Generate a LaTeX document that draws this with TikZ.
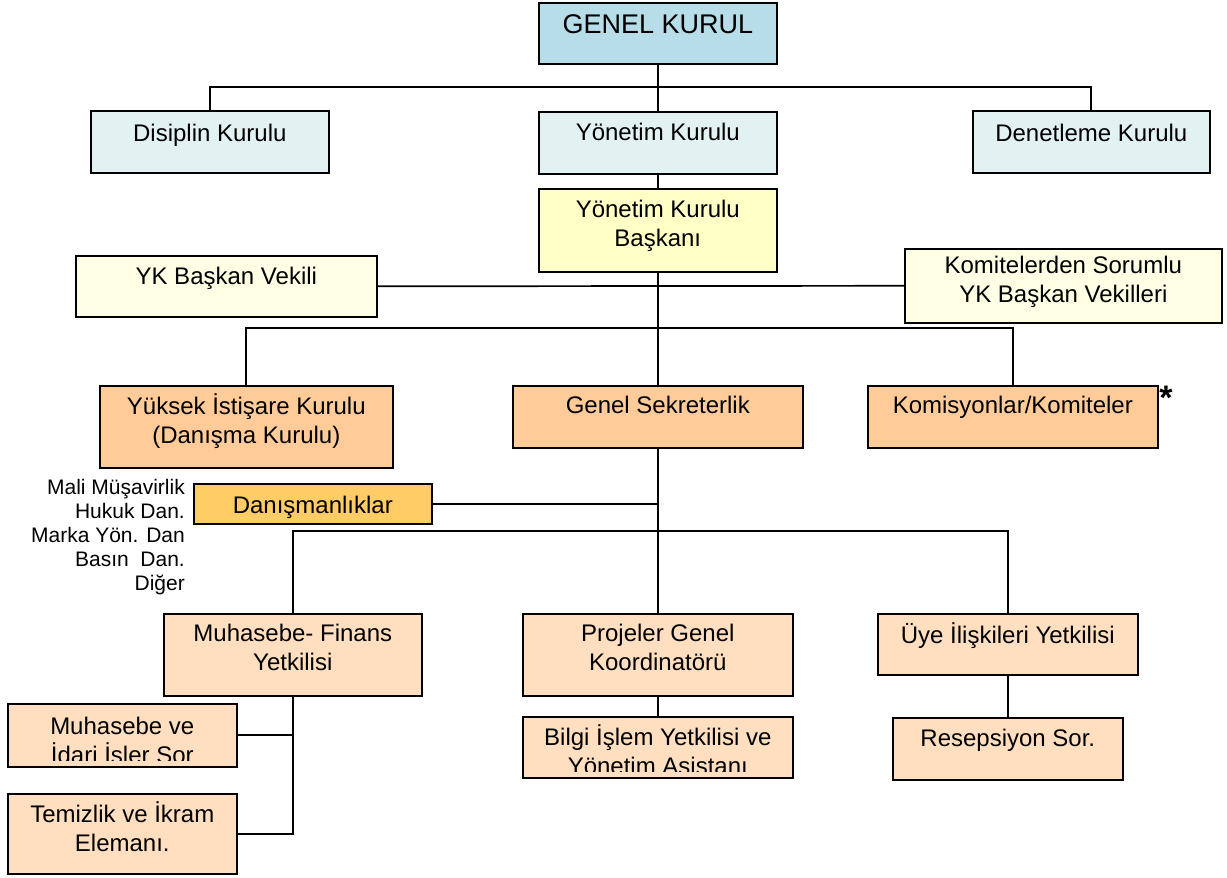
\documentclass[tikz,border=0pt]{standalone}
\usepackage{fontspec}
\setmainfont{Liberation Sans}
\definecolor{gkc}{HTML}{B7DEE8}
\definecolor{kc}{HTML}{E2F2F3}
\definecolor{ybc}{HTML}{FFFFC6}
\definecolor{yvc}{HTML}{FFFFE5}
\definecolor{orc}{HTML}{FFCC99}
\definecolor{lorc}{HTML}{FFDFBF}
\definecolor{gdc}{HTML}{FFCC66}
\newcommand\bxfont{\fontsize{24}{29}\selectfont}
\newcommand\twol[2]{\parbox[t]{10cm}{\centering #1\\#2}}
\begin{document}
\begin{tikzpicture}[x=1pt,y=-1pt,
  box/.style={draw=black, line width=1.6pt, inner sep=0pt, anchor=north west},
  txt/.style={inner sep=0pt, anchor=base, font=\bxfont},
  conn/.style={line width=1.7pt}]
\useasboundingbox (0,0) rectangle (1227,878);
% boxes
\node[box, fill=gkc, minimum width=238pt, minimum height=61pt] (gk) at (538,2) {};
\node[box, fill=kc, minimum width=238pt, minimum height=62pt] (dk) at (90,110) {};
\node[box, fill=kc, minimum width=238pt, minimum height=62pt] (yk) at (538,111) {};
\node[box, fill=kc, minimum width=237pt, minimum height=62pt] (dn) at (972,110) {};
\node[box, fill=ybc, minimum width=238pt, minimum height=83pt] (ykb) at (538,188) {};
\node[box, fill=yvc, minimum width=301pt, minimum height=61pt] (ykv) at (75,255) {};
\node[box, fill=yvc, minimum width=317pt, minimum height=74pt] (kom) at (904,248) {};
\node[box, fill=orc, minimum width=293pt, minimum height=82pt] (yik) at (99,385) {};
\node[box, fill=orc, minimum width=290pt, minimum height=62pt] (gs) at (512,385) {};
\node[box, fill=orc, minimum width=290pt, minimum height=62pt] (kk) at (867,385) {};
\node[box, fill=gdc, minimum width=238pt, minimum height=40pt] (dan) at (193,483) {};
\node[box, fill=lorc, minimum width=258pt, minimum height=82pt] (mf) at (163,613) {};
\node[box, fill=lorc, minimum width=270pt, minimum height=82pt] (pg) at (522,613) {};
\node[box, fill=lorc, minimum width=260pt, minimum height=61pt] (uy) at (877,613) {};
\node[box, fill=lorc, minimum width=230pt, minimum height=62pt] (rs) at (892,717) {};
\node[box, fill=lorc, minimum width=270pt, minimum height=61pt] (bi) at (522,716) {};
\node[box, fill=lorc, minimum width=229pt, minimum height=63pt] (mv) at (7,703) {};
\node[box, fill=lorc, minimum width=229pt, minimum height=80pt] (tm) at (7,793) {};
% connectors
\coordinate (h1) at (657,87);
\coordinate (h3) at (657,328);
\coordinate (h4) at (657,531);
\begin{scope}[conn]
\draw (gk.south) -- (yk.north);
\draw (dk.north) |- (h1) -| (dn.north);
\draw (yk.south) -- (ykb.north);
\draw (ykb.south) -- (gs.north);
\draw (ykv.east) -- (kom.west);
\draw (yik.north) |- (h3) -| (kk.north);
\draw (gs.south) -- (pg.north);
\draw (dan.east) -- (dan.east -| gs.south);
\draw (mf.north) |- (h4) -| (uy.north);
\draw (pg.south) -- (bi.north);
\draw (uy.south) -- (rs.north);
\draw (mf.south) |- (tm.east);
\draw (mv.east) -- (mv.east -| mf.south);
\end{scope}
% texts
\node[txt, font=\fontsize{27}{32}\selectfont] (gk-t) at ([yshift=-32pt]gk.north) {GENEL KURUL};
\node[txt] (dk-t) at ([yshift=-31pt]dk.north) {Disiplin Kurulu};
\node[txt] (yk-t) at ([yshift=-29pt]yk.north) {Yönetim Kurulu};
\node[txt] (dn-t) at ([yshift=-31pt]dn.north) {Denetleme Kurulu};
\node[txt] (ykb-t) at ([yshift=-29pt]ykb.north) {\twol{Yönetim Kurulu}{Başkanı}};
\node[txt] (ykv-t) at ([yshift=-29pt]ykv.north) {YK Başkan Vekili};
\node[txt] (kom-t) at ([yshift=-25pt]kom.north) {\twol{Komitelerden Sorumlu}{YK Başkan Vekilleri}};
\node[txt] (yik-t) at ([yshift=-29pt]yik.north) {\twol{Yüksek İstişare Kurulu}{(Danışma Kurulu)}};
\node[txt] (gs-t) at ([yshift=-28pt]gs.north) {Genel Sekreterlik};
\node[txt] (kk-t) at ([yshift=-28pt]kk.north) {Komisyonlar/Komiteler};
\node[inner sep=0pt, anchor=north, font=\fontsize{34}{34}\selectfont\bfseries] (ast) at (1166,386) {*};
\node[txt] (dan-t) at ([yshift=-30pt]dan.north) {Danışmanlıklar};
\node[txt] (mf-t) at ([yshift=-28pt]mf.north) {\twol{Muhasebe- Finans}{Yetkilisi}};
\node[txt] (pg-t) at ([yshift=-28pt]pg.north) {\twol{Projeler Genel}{Koordinatörü}};
\node[txt] (uy-t) at ([yshift=-30pt]uy.north) {Üye İlişkileri Yetkilisi};
\node[txt] (rs-t) at ([yshift=-29pt]rs.north) {Resepsiyon Sor.};
\begin{scope}
\clip (bi.north west) rectangle ([yshift=7pt]bi.south east);
\node[txt] (bi-t) at ([yshift=-29pt]bi.north) {\twol{Bilgi İşlem Yetkilisi ve}{Yönetim Asistanı}};
\end{scope}
\begin{scope}
\clip (mv.north west) rectangle ([yshift=7pt]mv.south east);
\node[txt] (mv-t) at ([yshift=-31pt]mv.north) {\twol{Muhasebe ve}{İdari İşler Sor}};
\end{scope}
\node[txt] (tm-t) at ([yshift=-29pt]tm.north) {\twol{Temizlik ve İkram}{Elemanı.}};
\node[inner sep=0pt, anchor=base east] (lst) at (185,494) {\parbox[t]{6cm}{\raggedleft\fontsize{21}{24}\selectfont Mali Müşavirlik\\Hukuk Dan.\\Marka Yön. Dan\\Basın~~Dan.\\Diğer}};
\end{tikzpicture}
\end{document}
